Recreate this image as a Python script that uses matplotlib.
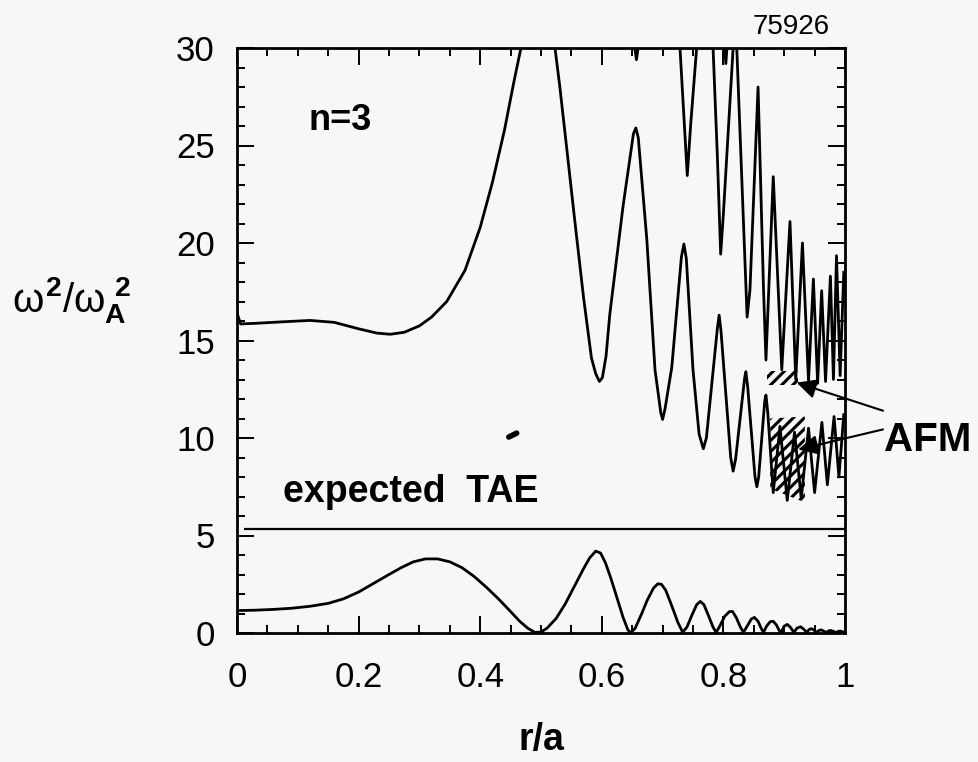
import numpy as np
import matplotlib
matplotlib.use("Agg")
import matplotlib.pyplot as plt
from matplotlib.ticker import MultipleLocator

plt.rcParams['font.family'] = ['Liberation Sans Narrow', 'Liberation Sans', 'DejaVu Sans']
plt.rcParams['mathtext.fontset'] = 'custom'
plt.rcParams['mathtext.rm'] = 'Liberation Sans'
plt.rcParams['mathtext.it'] = 'Liberation Sans'
plt.rcParams['mathtext.bf'] = 'Liberation Sans:bold'
plt.rcParams['hatch.linewidth'] = 2.2

# --- data (r/a, omega^2/omega_A^2) ---

# lower continuum (below the TAE gap)
low_r = [0.0, 0.03, 0.06, 0.09, 0.12, 0.15, 0.175, 0.20, 0.225, 0.25, 0.27, 0.29, 0.31, 0.33,
         0.35, 0.37, 0.39, 0.41, 0.43, 0.45, 0.465, 0.478, 0.49, 0.50, 0.51, 0.525, 0.54,
         0.555, 0.57, 0.58, 0.59, 0.598, 0.606, 0.615, 0.625, 0.635, 0.643, 0.648, 0.655,
         0.665, 0.675, 0.685, 0.692, 0.698, 0.705, 0.715, 0.725, 0.733, 0.74, 0.748, 0.756,
         0.762, 0.768, 0.776, 0.783, 0.788, 0.794, 0.802, 0.81, 0.815, 0.821, 0.828, 0.833,
         0.839, 0.846, 0.851, 0.857, 0.862, 0.866, 0.871, 0.877, 0.882, 0.887, 0.892, 0.895,
         0.90, 0.905, 0.91, 0.916, 0.921, 0.927, 0.932, 0.937, 0.941, 0.945, 0.949, 0.953,
         0.957, 0.961, 0.965, 0.969, 0.973, 0.977, 0.981, 0.985, 0.989, 0.993, 0.997, 1.0]
low_w = [1.15, 1.17, 1.21, 1.27, 1.37, 1.52, 1.75, 2.1, 2.55, 3.0, 3.35, 3.65, 3.8, 3.8,
         3.65, 3.35, 2.9, 2.35, 1.75, 1.1, 0.6, 0.25, 0.03, 0.05, 0.25, 0.75, 1.5,
         2.4, 3.3, 3.85, 4.2, 4.1, 3.6, 2.8, 1.8, 0.8, 0.15, 0.02, 0.25,
         0.95, 1.7, 2.3, 2.52, 2.5, 2.2, 1.4, 0.55, 0.04, 0.3, 0.9, 1.45,
         1.62, 1.45, 0.85, 0.3, 0.03, 0.35, 0.85, 1.1, 1.1, 0.8, 0.3, 0.03,
         0.35, 0.72, 0.8, 0.6, 0.25, 0.03, 0.35, 0.58, 0.6, 0.42, 0.12, 0.03,
         0.35, 0.44, 0.3, 0.03, 0.25, 0.32, 0.2, 0.03, 0.18, 0.22, 0.15, 0.02,
         0.13, 0.16, 0.1, 0.02, 0.11, 0.13, 0.08, 0.02, 0.09, 0.1, 0.05, 0.02]

# upper continuum, main branch
up1_r = [0.0, 0.006, 0.03, 0.07, 0.12, 0.16, 0.20, 0.23, 0.252, 0.275, 0.30, 0.32, 0.345, 0.375,
         0.40, 0.42, 0.44, 0.455, 0.467, 0.495, 0.523, 0.531, 0.54, 0.555, 0.57, 0.583, 0.59,
         0.596, 0.601, 0.607, 0.613, 0.635, 0.652, 0.656, 0.660, 0.674, 0.6875, 0.697, 0.700,
         0.704, 0.715, 0.731, 0.735, 0.739, 0.750, 0.76, 0.767, 0.772, 0.79, 0.793, 0.796,
         0.812, 0.816, 0.82, 0.835, 0.837, 0.84, 0.852, 0.855, 0.858, 0.868, 0.870, 0.873,
         0.882, 0.893, 0.905, 0.917, 0.928, 0.940, 0.950, 0.962, 0.971, 0.982, 0.990, 0.998]
up1_w = [16.4, 15.85, 15.88, 15.95, 16.03, 15.93, 15.6, 15.38, 15.32, 15.42, 15.75, 16.2, 17.0, 18.6,
         20.8, 23.1, 25.8, 28.2, 30.0, 38.0, 30.0, 28.0, 25.5, 21.3, 17.2, 14.1, 13.3,
         12.9, 13.1, 14.2, 16.3, 21.9, 25.6, 25.9, 25.4, 20.2, 13.5, 11.3, 10.95,
         11.5, 13.6, 19.3, 19.95, 19.2, 13.5, 10.2, 9.45, 10.0, 15.6, 16.3, 15.5,
         9.0, 8.3, 8.9, 13.1, 13.4, 12.6, 8.0, 7.5, 8.0, 11.9, 12.2, 11.3,
         7.2, 10.6, 6.8, 10.3, 6.9, 10.5, 7.2, 10.8, 7.6, 11.1, 8.0, 11.2]

# upper continuum, second branch
up2_r = [0.7286, 0.735, 0.7406, 0.746, 0.756, 0.77, 0.783, 0.79, 0.7955, 0.80, 0.816, 0.819,
         0.822, 0.83, 0.839, 0.8437, 0.857, 0.866, 0.870, 0.882, 0.896, 0.9095, 0.919, 0.930,
         0.940, 0.948, 0.955, 0.9616, 0.968, 0.976, 0.981, 0.986, 0.992, 0.998]
up2_w = [30.0, 26.5, 23.46, 26.0, 30.0, 35.0, 30.0, 24.5, 19.43, 21.5, 30.0, 31.0,
         30.0, 23.5, 16.2, 17.6, 28.0, 17.6, 14.0, 23.4, 13.5, 21.1, 13.0, 20.0,
         12.9, 18.15, 12.8, 17.55, 12.9, 18.3, 13.0, 19.35, 13.2, 18.5]

# branch tips just dipping below the top of the frame
dip1_r = [0.652, 0.657, 0.662]
dip1_w = [30.5, 29.4, 30.5]
dip2_r = [0.801, 0.804, 0.807]
dip2_w = [30.5, 29.2, 30.5]

# stray mark
blip_r = [0.447, 0.46]
blip_w = [10.05, 10.25]

tae_level = 5.35

# AFM hatched regions
afm1_r = [0.871, 0.923, 0.923, 0.871]
afm1_w = [12.7, 12.7, 13.45, 13.45]
afm2_r = [0.877, 0.934, 0.934, 0.877]
afm2_w = [7.4, 6.7, 11.1, 11.0]

xticks = [0, 0.2, 0.4, 0.6, 0.8, 1.0]
xticklabels = ['0', '0.2', '0.4', '0.6', '0.8', '1']
yticks = [0, 5, 10, 15, 20, 25, 30]

fig = plt.figure(figsize=(9.79, 7.62), dpi=100, facecolor='#f7f7f7')
ax = fig.add_axes([237/979, 1-633/762, (845-237)/979, (633-48)/762])
ax.set_facecolor('#f7f7f7')

lw = 2.0
ax.plot(low_r, low_w, color='black', lw=lw)
ax.plot(up1_r, up1_w, color='black', lw=lw)
ax.plot(up2_r, up2_w, color='black', lw=lw)
ax.plot(dip1_r, dip1_w, color='black', lw=lw)
ax.plot(dip2_r, dip2_w, color='black', lw=lw)
ax.plot(blip_r, blip_w, color='black', lw=4, solid_capstyle='round')
ax.hlines(tae_level, 0.011, 1.0, color='black', lw=1.6)

ax.fill(afm1_r, afm1_w, facecolor='none', edgecolor='black', linewidth=0, hatch='///')
ax.fill(afm2_r, afm2_w, facecolor='none', edgecolor='black', linewidth=0, hatch='///')

ax.set_xlim(0, 1)
ax.set_ylim(0, 30)
ax.set_xticks(xticks)
ax.set_xticklabels(xticklabels)
ax.set_yticks(yticks)
ax.xaxis.set_minor_locator(MultipleLocator(0.05))
ax.yaxis.set_minor_locator(MultipleLocator(1))
ax.tick_params(which='both', direction='in', top=True, right=True, width=1.4, labelsize=25)
ax.tick_params(axis='x', which='major', length=12, pad=20)
ax.tick_params(axis='y', which='major', length=12, pad=16)
ax.tick_params(which='minor', length=6)
for s in ax.spines.values():
    s.set_linewidth(2)

ax.text(0.117, 26.3, 'n=3', fontsize=26, fontweight='bold', va='center', ha='left')
ax.text(0.076, 6.7, 'expected  TAE', fontsize=27, fontweight='bold', va='baseline', ha='left')
ax.text(1.064, 9.9, 'AFM', fontsize=29, fontweight='bold', va='center', ha='left', clip_on=False)

arrow = dict(arrowstyle='-|>', color='black', lw=1.5, mutation_scale=30, shrinkA=0, shrinkB=0)
ax.annotate('', xy=(0.9205, 12.84), xytext=(1.0625, 11.4), arrowprops=arrow, annotation_clip=False)
ax.annotate('', xy=(0.923, 9.41), xytext=(1.0625, 10.44), arrowprops=arrow, annotation_clip=False)

fig.text(791/979, 1-27/762, '75926', fontsize=20, ha='center', va='center')
fig.text(541/979, 1-740/762, 'r/a', fontsize=27, fontweight='bold', ha='center', va='center')
fig.text(12/979, 1-300/762, r'$\omega^{\mathbf{2}}/\omega_{\mathbf{A}}^{\ \mathbf{2}}$',
         fontsize=29, ha='left', va='center')

fig.savefig('out.png', dpi=100, facecolor=fig.get_facecolor())
